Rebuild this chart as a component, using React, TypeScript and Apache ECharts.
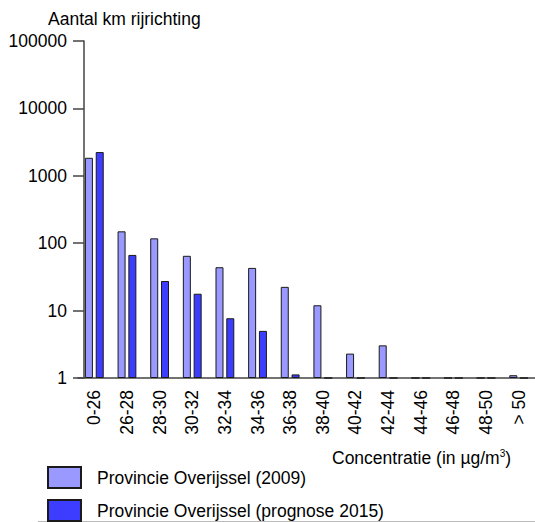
import React, { useEffect, useRef } from "react";
import * as echarts from "echarts";

const categories = ["0-26", "26-28", "28-30", "30-32", "32-34", "34-36", "36-38", "38-40", "40-42", "42-44", "44-46", "46-48", "48-50", "> 50"];
const series2009 = [1850, 150, 118, 65, 44, 43, 22.5, 12, 2.3, 3.05, 1, 1, 1, 1.1];
const series2015 = [2250, 67, 27.5, 17.8, 7.7, 5.0, 1.13, 1, 1, 1, 1, 1, 1, 1];
const seriesNames = ["Provincie Overijssel (2009)", "Provincie Overijssel (prognose 2015)"];
const yTicks = [1, 10, 100, 1000, 10000, 100000];

const FONT = "'Liberation Sans', Arial, sans-serif";
const FS = 17.5;

export default function App() {
  const ref = useRef<HTMLDivElement>(null);
  useEffect(() => {
    if (!ref.current) return;
    const chart = echarts.init(ref.current, null, { renderer: "svg" });
    chart.setOption({
      animation: false,
      backgroundColor: "#ffffff",
      textStyle: { fontFamily: FONT },
      grid: { left: 78, right: -8, top: 41, bottom: 522 - 378, containLabel: false },
      xAxis: {
        type: "category",
        data: categories,
        axisLine: { show: true, lineStyle: { color: "#444", width: 1.5 } },
        axisTick: { show: false },
        axisLabel: { rotate: 90, fontSize: FS, color: "#000", margin: 12, fontFamily: FONT, interval: 0 },
        splitLine: { show: false },
      },
      yAxis: {
        type: "log",
        logBase: 10,
        min: yTicks[0],
        max: yTicks[yTicks.length - 1],
        offset: -6,
        axisLine: { show: true, lineStyle: { color: "#444", width: 1.5 } },
        axisTick: { show: true, length: 11, lineStyle: { color: "#444", width: 1.5 } },
        axisLabel: {
          fontSize: FS,
          color: "#000",
          margin: 17,
          fontFamily: FONT,
          formatter: (v: number) => String(Math.round(v)),
        },
        splitLine: { show: false },
        minorTick: { show: false },
      },
      legend: {
        orient: "vertical",
        left: 47,
        top: 466,
        padding: 0,
        itemWidth: 33,
        itemHeight: 21,
        itemGap: 10,
        icon: "rect",
        data: seriesNames,
        textStyle: { fontSize: FS, color: "#000", fontFamily: FONT, padding: [0, 0, 0, 11] },
      },
      series: [
        {
          name: seriesNames[0],
          type: "bar",
          data: series2009,
          barWidth: 8,
          barGap: "35%",
          itemStyle: { color: "#9999ff", borderColor: "#1a1a1a", borderWidth: 1 },
        },
        {
          name: seriesNames[1],
          type: "bar",
          data: series2015,
          barWidth: 8,
          itemStyle: { color: "#3d3dff", borderColor: "#1a1a1a", borderWidth: 1 },
        },
      ],
      graphic: [
        {
          type: "text",
          x: 48,
          y: 19,
          style: { text: "Aantal km rijrichting", fontSize: FS, fontFamily: FONT, fill: "#000", verticalAlign: "middle" },
        },
        {
          type: "text",
          x: 332,
          y: 458,
          style: {
            text: "{a|Concentratie (in µg/m}{s|3}{a|)}",
            fontFamily: FONT,
            verticalAlign: "middle",
            rich: {
              a: { fontSize: FS, fontFamily: FONT, fill: "#000", lineHeight: 20 },
              s: { fontSize: 10, fontFamily: FONT, fill: "#000", verticalAlign: "top", lineHeight: 20, padding: [0, 0, 8, 0] },
            },
          },
        },
        {
          type: "line",
          shape: { x1: 38, y1: 521.5, x2: 535, y2: 521.5 },
          style: { stroke: "#bbbbbb", lineWidth: 1 },
        },
      ],
    });
    return () => chart.dispose();
  }, []);
  return <div ref={ref} style={{ position: "fixed", left: 0, top: 0, width: 535, height: 522 }} />;
}
